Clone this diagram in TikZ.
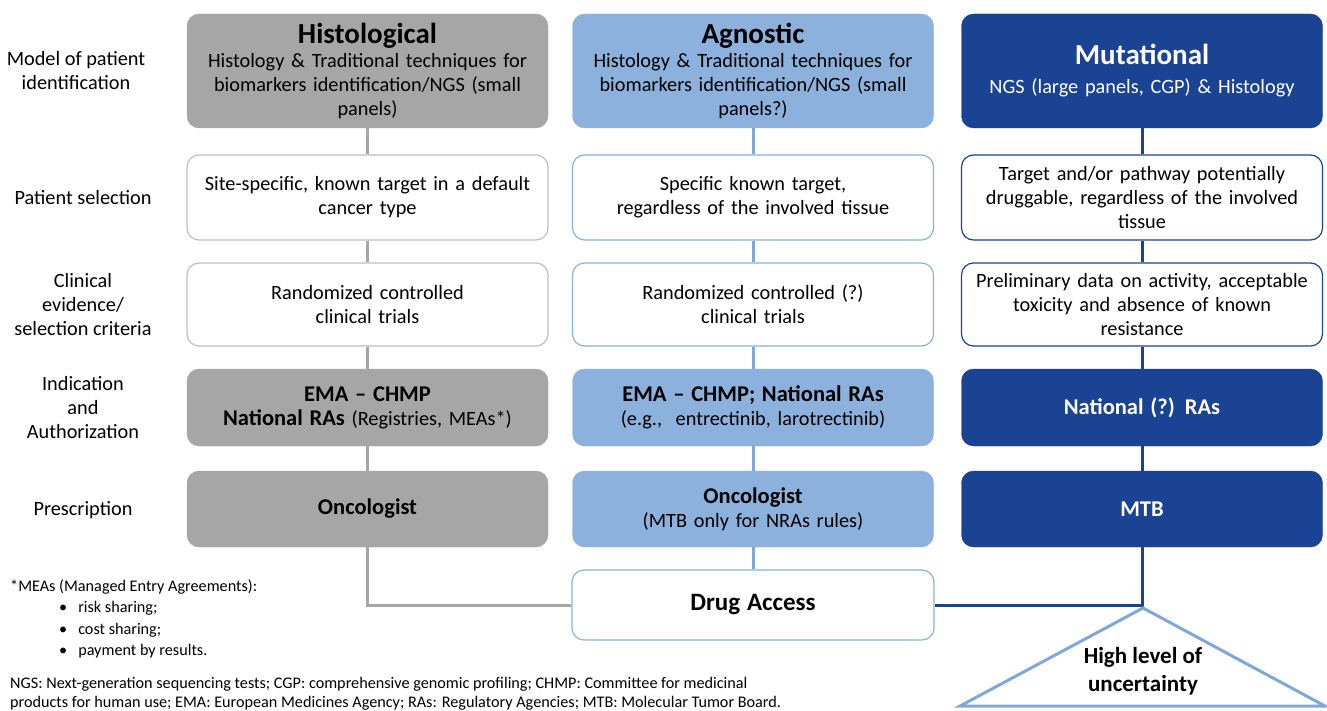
\documentclass[tikz,border=0pt]{standalone}
\usepackage{fontspec}
\setmainfont{Carlito}
\definecolor{cgray}{HTML}{A6A6A6}
\definecolor{cgrayline}{HTML}{A6A6A6}
\definecolor{cgrayborder}{HTML}{BFBFBF}
\definecolor{clight}{HTML}{8BB1DC}
\definecolor{clightline}{HTML}{7FA8D8}
\definecolor{cdark}{HTML}{1A4393}
\newcommand{\bodyfs}{\fontsize{20.3}{24}\selectfont}
\newcommand{\titlefs}{\fontsize{29}{28}\selectfont\bfseries}
\newcommand{\strongfs}{\fontsize{22.5}{26}\selectfont\bfseries}
\begin{document}
\begin{tikzpicture}[x=1pt,y=-1pt,
  box/.style={rectangle,rounded corners=12pt,minimum width=361pt,text width=355pt,align=center,inner sep=0pt,font=\bodyfs},
  graybox/.style={box,fill=cgray,draw=cgray},
  lightbox/.style={box,fill=clight,draw=clight},
  darkbox/.style={box,fill=cdark,draw=cdark,text=white},
  wbox1/.style={box,fill=white,draw=cgrayborder,line width=1.2pt},
  wbox2/.style={box,fill=white,draw=clight,line width=1.2pt},
  wbox3/.style={box,fill=white,draw=cdark,line width=1.2pt},
  rowlabel/.style={align=center,font=\bodyfs,inner sep=0pt},
  lgray/.style={draw=cgrayline,line width=3pt},
  llight/.style={draw=clightline,line width=3pt},
  ldark/.style={draw=cdark,line width=3pt},
  note/.style={anchor=west,inner sep=0pt,align=left}
]
\useasboundingbox (0,0) rectangle (1327,711);

% row labels
\node[rowlabel] (lab1) at (76,71) {Model of patient\\identification};
\node[rowlabel] (lab2) at (83,198) {Patient selection};
\node[rowlabel] (lab3) at (83,305) {Clinical\\evidence/\\selection criteria};
\node[rowlabel] (lab4) at (83,408) {Indication\\and\\Authorization};
\node[rowlabel] (lab5) at (83,510) {Prescription};

% column 1
\node[graybox,minimum height=114pt] (h1) at (367.5,71) {{\titlefs Histological}\\Histology \& Traditional techniques for\\biomarkers identification/NGS (small\\panels)};
\node[wbox1,minimum height=85pt] (s1) at (367.5,197.5) {Site-specific, known target in a default\\cancer type};
\node[wbox1,minimum height=83pt] (e1) at (367.5,304.5) {Randomized controlled\\clinical trials};
\node[graybox,minimum height=77pt] (a1) at (367.5,407.5) {{\strongfs EMA -- CHMP}\\{\strongfs National RAs} (Registries, MEAs*)};
\node[graybox,minimum height=76pt] (p1) at (367.5,509) {\strongfs Oncologist};

% column 2
\node[lightbox,minimum height=114pt] (h2) at (753,71) {{\titlefs Agnostic}\\Histology \& Traditional techniques for\\biomarkers identification/NGS (small\\panels?)};
\node[wbox2,minimum height=85pt] (s2) at (753,197.5) {Specific known target,\\regardless of the involved tissue};
\node[wbox2,minimum height=83pt] (e2) at (753,304.5) {Randomized controlled (?)\\clinical trials};
\node[lightbox,minimum height=77pt] (a2) at (753,407.5) {{\strongfs EMA -- CHMP; National RAs}\\(e.g.,\ \ entrectinib, larotrectinib)};
\node[lightbox,minimum height=76pt] (p2) at (753,509) {{\strongfs Oncologist}\\(MTB only for NRAs rules)};

% column 3
\node[darkbox,minimum height=114pt] (h3) at (1142,71) {{\titlefs Mutational}\\[5pt]NGS (large panels, CGP) \& Histology};
\node[wbox3,minimum height=85pt] (s3) at (1142,197.5) {Target and/or pathway potentially\\druggable, regardless of the involved\\tissue};
\node[wbox3,minimum height=83pt] (e3) at (1142,304.5) {Preliminary data on activity, acceptable\\toxicity and absence of known\\resistance};
\node[darkbox,minimum height=77pt] (a3) at (1142,407.5) {\strongfs National (?) RAs};
\node[darkbox,minimum height=76pt] (p3) at (1142,509) {\strongfs MTB};

% drug access
\node[wbox2,minimum height=70pt,minimum width=362pt] (drug) at (753,605) {\fontsize{25}{28}\selectfont\textbf{Drug Access}};

% connectors
\draw[lgray] (h1.south) -- (s1.north);
\draw[lgray] (s1.south) -- (e1.north);
\draw[lgray] (e1.south) -- (a1.north);
\draw[lgray] (a1.south) -- (p1.north);
\draw[lgray] (p1.south) |- (drug.west);
\draw[llight] (h2.south) -- (s2.north);
\draw[llight] (s2.south) -- (e2.north);
\draw[llight] (e2.south) -- (a2.north);
\draw[llight] (a2.south) -- (p2.north);
\draw[llight] (p2.south) -- (drug.north);
\draw[ldark] (h3.south) -- (s3.north);
\draw[ldark] (s3.south) -- (e3.north);
\draw[ldark] (e3.south) -- (a3.north);
\draw[ldark] (a3.south) -- (p3.north);
\draw[ldark] (p3.south) |- (drug.east);

% triangle
\coordinate (apex) at (1143,608);
\coordinate (tl) at (960,706);
\coordinate (tr) at (1325,706);
\draw[clightline,line width=3pt,line join=miter] (apex) -- (tr) -- (tl) -- cycle;
\node[align=center,font=\fontsize{23}{28}\selectfont\bfseries,inner sep=0pt] (unc) at (1143,671) {High level of\\uncertainty};

% footnotes
\node[note,font=\fontsize{16.2}{21.5}\selectfont] (mea) at (10,587) {*MEAs (Managed Entry Agreements):};
\node[note,font=\fontsize{16.2}{21.5}\selectfont] (mealist) at (59,630) {\textbullet\hspace{11pt}risk sharing;\\\textbullet\hspace{11pt}cost sharing;\\\textbullet\hspace{11pt}payment by results.};
\node[note,font=\fontsize{16.2}{19.5}\selectfont] (abbr) at (10,694) {NGS: Next-generation sequencing tests; CGP: comprehensive genomic profiling; CHMP: Committee for medicinal\\products for human use; EMA: European Medicines Agency; RAs: Regulatory Agencies; MTB: Molecular Tumor Board.};
\end{tikzpicture}
\end{document}
